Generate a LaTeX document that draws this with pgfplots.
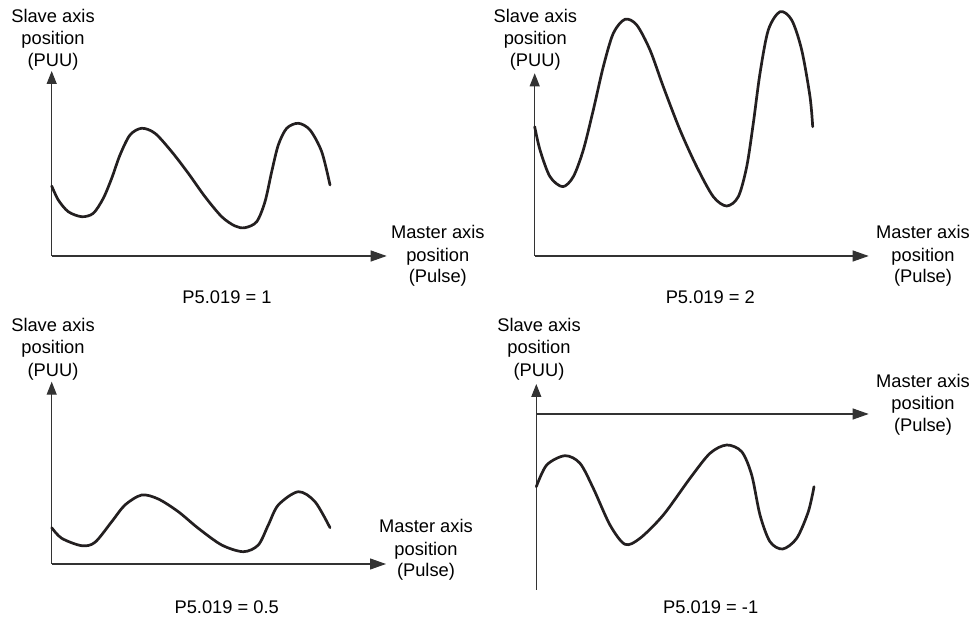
\documentclass[border=0pt]{standalone}
\usepackage{pgfplots}
\pgfplotsset{compat=1.18}
\usepackage{fontspec}
\setmainfont{Liberation Sans}
\usetikzlibrary{arrows.meta}
\definecolor{curve}{HTML}{231F20}
\definecolor{axisc}{HTML}{333333}
\pgfplotsset{panel/.style={
  axis lines=middle, x=1pt, y=1pt, xtick=\empty, ytick=\empty,
  enlargelimits=false, xmin=0, clip=false, anchor=south west,
  axis line style={draw=axisc, line width=1.1pt},
  x axis line style={-{Triangle[length=16pt,width=11pt]}},
  y axis line style={-{Triangle[length=13pt,width=10pt]}},
}}
\tikzset{crv/.style={line width=2.7pt, color=curve, smooth, tension=0.5, no marks, line cap=round, line join=round},
  lab/.style={anchor=base, inner sep=0pt, font=\fontsize{18.3}{22}\selectfont}}
\begin{document}
\begin{tikzpicture}[x=1pt,y=1pt]
\useasboundingbox (0,0) rectangle (974,621);
% Panel 1: P5.019 = 1
\begin{axis}[panel, at={(51.7,365)}, xmax=335, ymin=0, ymax=185]
\addplot[crv] coordinates {(0,70) (6.6,56) (16.6,44.3) (30,39.3) (41.6,42.7) (51.6,57.7) (60,77.7) (68.3,101) (78.3,121) (90,127.7) (103.3,122.7) (120,104.3) (136.6,82.7) (153.3,59.3) (170,39.3) (183.3,30) (193.3,28.3) (205,34.3) (213.3,54.3) (220,84.3) (226.6,111) (235,127.7) (246.6,132.7) (258.3,126) (270,104.3) (278.3,71)};
\end{axis}
% Panel 2: P5.019 = 2
\begin{axis}[panel, at={(534.7,365)}, xmax=334, ymin=0, ymax=182.7]
\addplot[crv] coordinates {(0,129.3) (5.3,106) (15.3,79.3) (28,69.3) (38.6,79.3) (48.6,106) (58.6,146) (68.6,189.3) (78.6,222.7) (90.3,236.7) (102,231) (115.3,206) (128.6,169.3) (145.3,126) (162,89.3) (178.6,59.3) (192,50) (203.6,59.3) (212,89.3) (218.6,132.7) (225.3,182.7) (233.6,226) (245.3,244.3) (257,236) (267,206) (275.3,159.3) (278,129.3)};
\end{axis}
% Panel 3: P5.019 = 0.5
\begin{axis}[panel, at={(51.7,57)}, xmax=334.3, ymin=0, ymax=182.3]
\addplot[crv] coordinates {(0,36.3) (10,25.7) (30,18.3) (43.3,21.7) (60,42.3) (73.3,59) (90,69) (106.6,65) (126.6,52.3) (146.6,35.7) (170,19) (191.6,12.3) (206.6,19) (216.6,39) (226.6,59) (246.6,72.3) (263.3,62.3) (278.3,36.3)};
\end{axis}
% Panel 4: P5.019 = -1
\begin{axis}[panel, at={(536.3,31)}, xmax=332.4, ymin=-176, ymax=30]
\addplot[crv] coordinates {(0,-72.7) (10.4,-51) (28.7,-41.7) (43.7,-49.3) (57,-74.3) (73.7,-111) (88.7,-130.3) (103.7,-124.3) (127,-101) (153.7,-64.3) (173.7,-39.3) (190.4,-31) (205.4,-37.7) (215.4,-61) (223.7,-101) (233.7,-127.7) (246.4,-135) (260.4,-124.3) (272,-97.7) (277.7,-72.7)};
\end{axis}
% Labels panel 1
\node[lab] at (53,598.5) {Slave axis};
\node[lab] at (53,576) {position};
\node[lab] at (53,554) {(PUU)};
\node[lab] at (437.8,382) {Master axis};
\node[lab] at (437.8,359) {position};
\node[lab] at (437.8,338) {(Pulse)};
\node[lab] at (227,317) {P5.019 = 1};
% Labels panel 2
\node[lab] at (535.3,598.5) {Slave axis};
\node[lab] at (535.3,576) {position};
\node[lab] at (535.3,554) {(PUU)};
\node[lab] at (923,382) {Master axis};
\node[lab] at (923,359) {position};
\node[lab] at (923,338) {(Pulse)};
\node[lab] at (710.3,317) {P5.019 = 2};
% Labels panel 3
\node[lab] at (53,289.3) {Slave axis};
\node[lab] at (53,267) {position};
\node[lab] at (53,244.5) {(PUU)};
\node[lab] at (426,88.3) {Master axis};
\node[lab] at (426,66) {position};
\node[lab] at (426,44.3) {(Pulse)};
\node[lab] at (226.7,7.7) {P5.019 = 0.5};
% Labels panel 4
\node[lab] at (539,289.3) {Slave axis};
\node[lab] at (539,267) {position};
\node[lab] at (539,244.5) {(PUU)};
\node[lab] at (923,233.7) {Master axis};
\node[lab] at (923,211) {position};
\node[lab] at (923,189.3) {(Pulse)};
\node[lab] at (710.7,7.7) {P5.019 = -1};
\end{tikzpicture}
\end{document}
